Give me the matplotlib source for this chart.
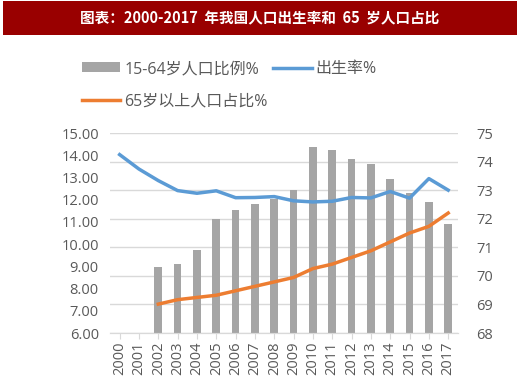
import numpy as np
import matplotlib.pyplot as plt
from matplotlib.patches import Rectangle

plt.rcParams['font.family'] = ['Open Sans', 'Noto Sans CJK SC', 'DejaVu Sans']

years = [str(y) for y in range(2000, 2018)]
working_age = [np.nan, np.nan, 70.3, 70.4, 70.9, 72.0, 72.3, 72.5, 72.7, 73.0,
               74.5, 74.4, 74.1, 73.9, 73.4, 72.9, 72.6, 71.8]
birth_rate = [14.03, 13.38, 12.86, 12.41, 12.29, 12.40, 12.09, 12.10, 12.14, 11.95,
              11.90, 11.93, 12.10, 12.08, 12.37, 12.07, 12.95, 12.43]
elderly = [np.nan, np.nan, 7.3, 7.5, 7.6, 7.7, 7.9, 8.1, 8.3, 8.5,
           8.9, 9.1, 9.4, 9.7, 10.1, 10.5, 10.8, 11.4]

txt = '#595959'
fig = plt.figure(figsize=(5.2, 3.86), dpi=100)

# title bar
fig.patches.append(Rectangle((0.006, 0.91), 0.988, 0.088, transform=fig.transFigure,
                             facecolor='#990000', edgecolor='none'))
fig.text(0.5, 0.953, '图表：2000-2017  年我国人口出生率和  65  岁人口占比',
         color='white', fontsize=10.5, fontweight='bold', ha='center', va='center',
         family=['Noto Sans CJK SC', 'DejaVu Sans'])

ax = fig.add_axes([0.2115, 0.1373, 0.669, 0.518])
ax2 = ax.twinx()
x = np.arange(len(years))

bars = ax2.bar(x, working_age, width=0.4, color='#a5a5a5', zorder=2,
               label='15-64岁人口比例%')
ax2.set_ylim(68, 75)
ax2.set_yticks(range(68, 76))

ax.set_zorder(ax2.get_zorder() + 1)
ax.patch.set_visible(False)
l1, = ax.plot(x, birth_rate, color='#5b9bd5', lw=2.5, label='出生率%')
l2, = ax.plot(x, elderly, color='#ed7d31', lw=2.5, label='65岁以上人口占比%')
ax.set_ylim(6, 15)
ax.set_yticks(np.arange(6, 16))
ax.set_yticklabels([f'{v:.2f}' for v in np.arange(6, 16)])
ax.set_xlim(-0.5, len(years) - 0.5)
ax.set_xticks(x)
ax.set_xticklabels(years, rotation=90)

for a in (ax, ax2):
    for s in ('top', 'left', 'right'):
        a.spines[s].set_visible(False)
    a.spines['bottom'].set_color('#d9d9d9')
    a.tick_params(colors=txt, labelsize=10.5, length=0)
ax2.yaxis.grid(True, color='#d9d9d9', lw=1, zorder=0)
ax2.set_axisbelow(True)
ax.tick_params(axis='x', length=4, color='#d9d9d9', pad=2)
ax2.tick_params(axis='y', pad=13)
ax.tick_params(axis='y', pad=8)

fig.legend([bars, l2, l1], ['15-64岁人口比例%', '65岁以上人口占比%', '出生率%'],
           ncol=2, loc='upper left', bbox_to_anchor=(0.158, 0.842), frameon=False,
           labelcolor=txt, handlelength=2.4, handleheight=0.6, columnspacing=0.35,
           handletextpad=0.25, labelspacing=1.05, borderpad=0, borderaxespad=0,
           prop={'family': ['Open Sans', 'Noto Sans CJK SC'], 'size': 11.5})

fig.savefig('out.png', dpi=100)
